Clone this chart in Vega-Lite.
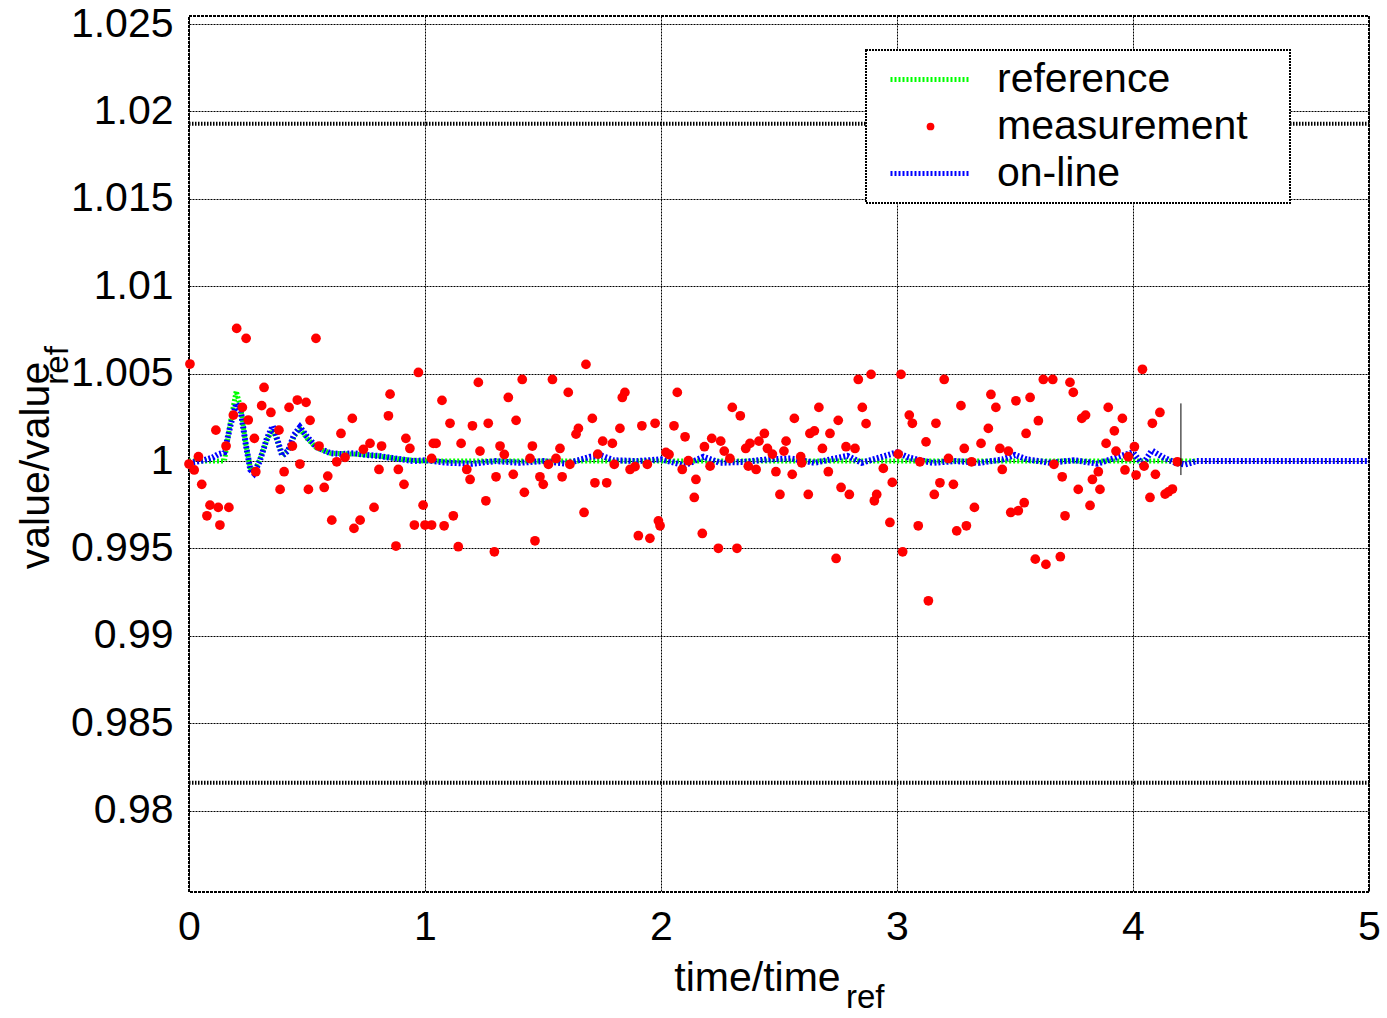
{
  "$schema": "https://vega.github.io/schema/vega-lite/v6.json",
  "width": 1180,
  "height": 876,
  "autosize": {"type": "none"},
  "padding": {"left": 189, "top": 16, "right": 18, "bottom": 126},
  "background": "white",
  "config": {
    "font": "Liberation Sans",
    "view": {"stroke": "black", "strokeWidth": 2, "strokeDash": [3, 1]},
    "axis": {
      "labelFont": "Liberation Sans", "labelFontSize": 41, "labelColor": "black",
      "titleFont": "Liberation Sans", "titleFontSize": 41, "titleFontWeight": "normal", "titleColor": "black",
      "domain": false, "ticks": false, "tickSize": 0,
      "grid": true, "gridColor": "black", "gridOpacity": 1, "gridWidth": 1, "gridDash": [2, 1],
      "labelFlush": false, "labelBound": false, "labelOverlap": false
    }
  },
  "datasets": {
    "limits": [
      {"t": 0, "t2": 5, "v": 1.0193},
      {"t": 0, "t2": 5, "v": 0.9816}
    ],
    "marker": [
      {"t": 4.203, "v": 0.9992, "v2": 1.0033}
    ],
    "subscript": [
      {"label": "ref"}
    ],
    "reference": [
      {"t": 0, "v": 1.0}, {"t": 0.15, "v": 1.0}, {"t": 0.175, "v": 1.0022}, {"t": 0.2, "v": 1.004},
      {"t": 0.22, "v": 1.003}, {"t": 0.24, "v": 1.001}, {"t": 0.26, "v": 0.9996}, {"t": 0.275, "v": 0.9994},
      {"t": 0.3, "v": 1.0001}, {"t": 0.33, "v": 1.0012}, {"t": 0.355, "v": 1.0018}, {"t": 0.375, "v": 1.0011},
      {"t": 0.395, "v": 1.0003}, {"t": 0.42, "v": 1.0006}, {"t": 0.445, "v": 1.0014}, {"t": 0.47, "v": 1.00185},
      {"t": 0.5, "v": 1.0013}, {"t": 0.54, "v": 1.00075}, {"t": 0.6, "v": 1.00045}, {"t": 0.7, "v": 1.0004},
      {"t": 0.8, "v": 1.0003}, {"t": 0.9, "v": 1.0001}, {"t": 1.0, "v": 1.0}, {"t": 4.27, "v": 1.0}
    ],
    "online": [
      {"t": 0, "v": 0.9999}, {"t": 0.05, "v": 1.0}, {"t": 0.1, "v": 1.0002}, {"t": 0.125, "v": 1.0004},
      {"t": 0.15, "v": 1.0005}, {"t": 0.175, "v": 1.002}, {"t": 0.2, "v": 1.0033}, {"t": 0.22, "v": 1.0028},
      {"t": 0.24, "v": 1.001}, {"t": 0.26, "v": 0.9995}, {"t": 0.275, "v": 0.9993}, {"t": 0.3, "v": 1.0},
      {"t": 0.33, "v": 1.0013}, {"t": 0.355, "v": 1.002}, {"t": 0.375, "v": 1.0012}, {"t": 0.395, "v": 1.0003},
      {"t": 0.42, "v": 1.0006}, {"t": 0.445, "v": 1.0015}, {"t": 0.47, "v": 1.00195}, {"t": 0.5, "v": 1.0014},
      {"t": 0.54, "v": 1.0008}, {"t": 0.6, "v": 1.00045}, {"t": 0.65, "v": 1.0004}, {"t": 0.7, "v": 1.00045},
      {"t": 0.75, "v": 1.00035}, {"t": 0.8, "v": 1.0003}, {"t": 0.85, "v": 1.0002}, {"t": 0.9, "v": 1.0001},
      {"t": 0.95, "v": 1.0}, {"t": 1.0, "v": 1.00005}, {"t": 1.1, "v": 0.9999}, {"t": 1.2, "v": 0.99985},
      {"t": 1.3, "v": 1.0}, {"t": 1.4, "v": 0.9999}, {"t": 1.5, "v": 1.0}, {"t": 1.6, "v": 0.99985},
      {"t": 1.7, "v": 1.00025}, {"t": 1.75, "v": 1.0003}, {"t": 1.8, "v": 1.00005}, {"t": 1.9, "v": 1.0},
      {"t": 2.0, "v": 1.0001}, {"t": 2.1, "v": 0.99975}, {"t": 2.18, "v": 1.00025}, {"t": 2.25, "v": 0.9999},
      {"t": 2.35, "v": 0.99995}, {"t": 2.45, "v": 1.0001}, {"t": 2.55, "v": 1.00015}, {"t": 2.65, "v": 0.9999},
      {"t": 2.79, "v": 1.0003}, {"t": 2.85, "v": 0.9999}, {"t": 2.95, "v": 1.0003}, {"t": 3.0, "v": 1.0005},
      {"t": 3.05, "v": 1.0002}, {"t": 3.15, "v": 0.9999}, {"t": 3.25, "v": 1.0}, {"t": 3.35, "v": 0.9999},
      {"t": 3.45, "v": 1.0001}, {"t": 3.5, "v": 1.00035}, {"t": 3.55, "v": 1.0001}, {"t": 3.65, "v": 0.9999},
      {"t": 3.75, "v": 1.00005}, {"t": 3.85, "v": 0.99985}, {"t": 3.95, "v": 1.0003}, {"t": 4.0, "v": 1.0005},
      {"t": 4.04, "v": 0.9998}, {"t": 4.08, "v": 1.0006}, {"t": 4.13, "v": 1.0002}, {"t": 4.18, "v": 0.9999},
      {"t": 4.22, "v": 0.9998}, {"t": 4.27, "v": 1.0}, {"t": 5.0, "v": 1.0}
    ],
    "measurement": [
      {"t":0.004,"v":1.00555},{"t":0.202,"v":1.00759},{"t":0.242,"v":1.00702},{"t":0.538,"v":1.00702},{"t":0.972,"v":1.00507},{"t":0.318,"v":1.00421},{"t":0.852,"v":1.00383},{"t":0.308,"v":1.00317},{"t":0.347,"v":1.00278},{"t":0.424,"v":1.00307},{"t":0.459,"v":1.00349},{"t":0.496,"v":1.00336},{"t":0.226,"v":1.00307},{"t":0.188,"v":1.00263},{"t":0.251,"v":1.00235},{"t":0.513,"v":1.00233},{"t":0.692,"v":1.00244},{"t":0.845,"v":1.00259},{"t":0.114,"v":1.00177},{"t":0.381,"v":1.00177},{"t":0.644,"v":1.00158},{"t":0.919,"v":1.0013},{"t":0.277,"v":1.0013},{"t":0.157,"v":1.00086},{"t":0.438,"v":1.00086},{"t":0.551,"v":1.00086},{"t":0.767,"v":1.00101},{"t":0.739,"v":1.00067},{"t":0.816,"v":1.00086},{"t":0.936,"v":1.00072},{"t":1.035,"v":1.00101},{"t":0.04,"v":1.00025},{"t":0.626,"v":0.99996},{"t":0.661,"v":1.00021},{"t":1.028,"v":1.00015},{"t":0.0,"v":0.99983},{"t":0.022,"v":0.99949},{"t":0.47,"v":0.99983},{"t":0.283,"v":0.99939},{"t":0.403,"v":0.99939},{"t":0.805,"v":0.99952},{"t":0.887,"v":0.99952},{"t":0.588,"v":0.99914},{"t":0.054,"v":0.99867},{"t":0.911,"v":0.99867},{"t":0.386,"v":0.99838},{"t":0.506,"v":0.99838},{"t":0.573,"v":0.99849},{"t":0.089,"v":0.99748},{"t":0.124,"v":0.99735},{"t":0.169,"v":0.99735},{"t":0.076,"v":0.99687},{"t":0.131,"v":0.99634},{"t":0.784,"v":0.99735},{"t":0.605,"v":0.99662},{"t":0.725,"v":0.99662},{"t":0.699,"v":0.99615},{"t":0.992,"v":0.99748},{"t":0.955,"v":0.99634},{"t":1.0,"v":0.99634},{"t":1.028,"v":0.99634},{"t":0.877,"v":0.99514},
      {"t":1.682,"v":1.00553},{"t":1.226,"v":1.0045},{"t":1.412,"v":1.00467},{"t":1.54,"v":1.00467},{"t":1.607,"v":1.00393},{"t":1.836,"v":1.00364},{"t":1.847,"v":1.00393},{"t":1.072,"v":1.00347},{"t":1.353,"v":1.00364},{"t":1.106,"v":1.00216},{"t":1.201,"v":1.00202},{"t":1.268,"v":1.00216},{"t":1.386,"v":1.00233},{"t":1.709,"v":1.00244},{"t":1.65,"v":1.00187},{"t":1.64,"v":1.00154},{"t":1.826,"v":1.00187},{"t":1.919,"v":1.00202},{"t":1.975,"v":1.00216},{"t":1.047,"v":1.00101},{"t":1.153,"v":1.00101},{"t":1.318,"v":1.00086},{"t":1.455,"v":1.00086},{"t":1.572,"v":1.00072},{"t":1.753,"v":1.00114},{"t":1.794,"v":1.00101},{"t":1.233,"v":1.00057},{"t":1.336,"v":1.00038},{"t":1.732,"v":1.0004},{"t":2.021,"v":1.0005},{"t":1.445,"v":1.00015},{"t":1.555,"v":1.00015},{"t":1.523,"v":0.99981},{"t":1.614,"v":0.99981},{"t":1.802,"v":0.99981},{"t":1.942,"v":0.99981},{"t":1.177,"v":0.99952},{"t":1.869,"v":0.99952},{"t":1.89,"v":0.99968},{"t":1.191,"v":0.99895},{"t":1.301,"v":0.9991},{"t":1.374,"v":0.99924},{"t":1.487,"v":0.9991},{"t":1.501,"v":0.99867},{"t":1.581,"v":0.9991},{"t":1.72,"v":0.99876},{"t":1.77,"v":0.99876},{"t":1.421,"v":0.99821},{"t":1.258,"v":0.99773},{"t":1.674,"v":0.99706},{"t":1.12,"v":0.99687},{"t":1.081,"v":0.9963},{"t":1.989,"v":0.99658},{"t":1.996,"v":0.9963},{"t":1.904,"v":0.99573},{"t":1.953,"v":0.99558},{"t":1.466,"v":0.99544},{"t":1.141,"v":0.9951},{"t":1.294,"v":0.99481},
      {"t":2.836,"v":1.00467},{"t":2.89,"v":1.00496},{"t":3.017,"v":1.00496},{"t":2.069,"v":1.00393},{"t":2.302,"v":1.00307},{"t":2.336,"v":1.00259},{"t":2.853,"v":1.00307},{"t":2.669,"v":1.00307},{"t":2.565,"v":1.00244},{"t":2.751,"v":1.00233},{"t":2.869,"v":1.00214},{"t":2.055,"v":1.00202},{"t":2.102,"v":1.00139},{"t":2.438,"v":1.00158},{"t":2.631,"v":1.00158},{"t":2.65,"v":1.00173},{"t":2.716,"v":1.00158},{"t":2.215,"v":1.0013},{"t":2.253,"v":1.00114},{"t":2.415,"v":1.00114},{"t":2.53,"v":1.00114},{"t":2.377,"v":1.00101},{"t":2.359,"v":1.00072},{"t":2.184,"v":1.00082},{"t":2.268,"v":1.00057},{"t":2.451,"v":1.00072},{"t":2.521,"v":1.00057},{"t":2.472,"v":1.0004},{"t":2.684,"v":1.00072},{"t":2.784,"v":1.00082},{"t":2.822,"v":1.00072},{"t":2.034,"v":1.00038},{"t":2.116,"v":1.00002},{"t":2.292,"v":1.00015},{"t":2.592,"v":1.00025},{"t":2.596,"v":0.9999},{"t":2.37,"v":0.99971},{"t":2.403,"v":0.99952},{"t":2.208,"v":0.99971},{"t":2.09,"v":0.99952},{"t":2.487,"v":0.99939},{"t":2.556,"v":0.99924},{"t":2.709,"v":0.99939},{"t":2.942,"v":0.99958},{"t":3.005,"v":1.0004},{"t":2.148,"v":0.99895},{"t":2.98,"v":0.99878},{"t":2.763,"v":0.99849},{"t":2.798,"v":0.99809},{"t":2.504,"v":0.99809},{"t":2.624,"v":0.99809},{"t":2.914,"v":0.99809},{"t":2.904,"v":0.99773},{"t":2.141,"v":0.99792},{"t":2.97,"v":0.99649},{"t":2.175,"v":0.99586},{"t":2.243,"v":0.99501},{"t":2.322,"v":0.99501},{"t":2.742,"v":0.99443},{"t":3.024,"v":0.99481},
      {"t":3.2,"v":1.00467},{"t":3.62,"v":1.00467},{"t":3.66,"v":1.00467},{"t":3.733,"v":1.0045},{"t":3.747,"v":1.00393},{"t":3.398,"v":1.00381},{"t":3.504,"v":1.00345},{"t":3.564,"v":1.00364},{"t":3.271,"v":1.00317},{"t":3.419,"v":1.00307},{"t":3.895,"v":1.00307},{"t":3.052,"v":1.00263},{"t":3.065,"v":1.00216},{"t":3.165,"v":1.00216},{"t":3.799,"v":1.00263},{"t":3.783,"v":1.00244},{"t":3.955,"v":1.00244},{"t":3.599,"v":1.00231},{"t":3.387,"v":1.00187},{"t":3.547,"v":1.00158},{"t":3.921,"v":1.00173},{"t":3.123,"v":1.0011},{"t":3.356,"v":1.00101},{"t":3.886,"v":1.00101},{"t":3.285,"v":1.00072},{"t":3.436,"v":1.00072},{"t":3.472,"v":1.00057},{"t":3.928,"v":1.00057},{"t":4.006,"v":1.00082},{"t":3.98,"v":1.00025},{"t":3.218,"v":1.00015},{"t":3.097,"v":0.99996},{"t":3.316,"v":0.99996},{"t":3.665,"v":0.99981},{"t":3.446,"v":0.99952},{"t":3.853,"v":0.99939},{"t":3.966,"v":0.99949},{"t":4.013,"v":0.9992},{"t":3.7,"v":0.9991},{"t":3.828,"v":0.99895},{"t":3.182,"v":0.99876},{"t":3.239,"v":0.99867},{"t":3.768,"v":0.99838},{"t":3.86,"v":0.99838},{"t":3.158,"v":0.99809},{"t":3.539,"v":0.99762},{"t":3.818,"v":0.99746},{"t":3.328,"v":0.99735},{"t":3.482,"v":0.99706},{"t":3.514,"v":0.99716},{"t":3.712,"v":0.99687},{"t":3.09,"v":0.9963},{"t":3.294,"v":0.9963},{"t":3.253,"v":0.99601},{"t":3.586,"v":0.99439},{"t":3.631,"v":0.99409},{"t":3.692,"v":0.99453},{"t":3.133,"v":0.99201},
      {"t":4.04,"v":1.00525},{"t":4.114,"v":1.00278},{"t":4.082,"v":1.00216},{"t":4.188,"v":0.99996},{"t":4.047,"v":0.99971},{"t":4.095,"v":0.99924},{"t":4.072,"v":0.99792},{"t":4.136,"v":0.99811},{"t":4.167,"v":0.9984},{"t":4.15,"v":0.99824}
    ]
  },
  "layer": [
    {
      "encoding": {
        "x": {
          "field": "t", "type": "quantitative",
          "scale": {"domain": [0, 5], "nice": false, "zero": false},
          "axis": {
            "title": "time/time", "values": [0, 1, 2, 3, 4, 5], "format": "d", "labelPadding": 15,
            "titleX": 568, "titleY": 98, "titleAlign": "center", "titleBaseline": "alphabetic", "titleAngle": 0
          }
        },
        "y": {
          "field": "v", "type": "quantitative",
          "scale": {"domain": [0.97535, 1.02546], "nice": false, "zero": false},
          "axis": {
            "title": "value/value",
            "values": [0.98, 0.985, 0.99, 0.995, 1, 1.005, 1.01, 1.015, 1.02, 1.025],
            "format": "~g", "labelPadding": 16,
            "titleX": -141, "titleY": 449, "titleAngle": 270, "titleAlign": "center", "titleBaseline": "alphabetic"
          }
        }
      },
      "layer": [
        {
          "data": {"name": "limits"},
          "mark": {"type": "rule", "color": "black", "strokeWidth": 4, "strokeDash": [1.5, 1.5]},
          "encoding": {"x2": {"field": "t2"}}
        },
        {
          "data": {"name": "reference"},
          "mark": {"type": "line", "strokeWidth": 5, "strokeDash": [2, 2]},
          "encoding": {
            "color": {
              "datum": "reference", "type": "nominal",
              "scale": {"domain": ["reference", "measurement", "on-line"], "range": ["#00ff00", "#ff0000", "#0000ff"]},
              "legend": {
                "title": " ", "titleOrient": "right", "titlePadding": 33, "titleFontSize": 41, "titleFont": "Liberation Sans",
                "orient": "none", "legendX": 677, "legendY": 34,
                "labelFont": "Liberation Sans", "labelFontSize": 41, "labelColor": "black", "labelLimit": 600,
                "strokeColor": "black", "fillColor": "white", "padding": 9,
                "symbolOffset": 35, "labelOffset": 46, "rowPadding": 5,
                "symbolType": "stroke", "symbolSize": 6400, "symbolStrokeWidth": 5, "symbolDash": [2, 2],
                "encode": {
                  "legend": {"update": {"strokeDash": {"value": [2, 1]}, "strokeWidth": {"value": 2}}},
                  "symbols": {"update": {
                    "shape": {"signal": "datum.value === 'measurement' ? 'circle' : 'stroke'"},
                    "size": {"signal": "datum.value === 'measurement' ? 60 : 6400"},
                    "fill": {"signal": "datum.value === 'measurement' ? '#ff0000' : 'transparent'"},
                    "stroke": {"signal": "datum.value === 'reference' ? '#00ff00' : (datum.value === 'on-line' ? '#0000ff' : 'transparent')"},
                    "strokeWidth": {"signal": "datum.value === 'measurement' ? 0 : 5"},
                    "strokeDash": {"signal": "datum.value === 'measurement' ? [1, 0] : [2, 2]"},
                    "opacity": {"value": 1}
                  }}
                }
              }
            }
          }
        },
        {
          "data": {"name": "online"},
          "mark": {"type": "line", "strokeWidth": 6, "strokeDash": [2, 2]},
          "encoding": {"color": {"datum": "on-line", "type": "nominal"}}
        },
        {
          "data": {"name": "measurement"},
          "mark": {"type": "point", "filled": true, "size": 95, "opacity": 1, "strokeWidth": 0},
          "encoding": {"color": {"datum": "measurement", "type": "nominal"}}
        },
        {
          "data": {"name": "marker"},
          "mark": {"type": "rule", "color": "black", "strokeWidth": 1},
          "encoding": {"y2": {"field": "v2"}}
        }
      ]
    },
    {
      "data": {"name": "subscript"},
      "mark": {"type": "text", "font": "Liberation Sans", "fontSize": 33, "align": "center", "baseline": "alphabetic", "color": "black"},
      "encoding": {
        "text": {"field": "label"},
        "x": {"datum": 2.865, "type": "quantitative", "scale": {"domain": [0, 5], "nice": false, "zero": false}},
        "y": {"datum": 0.96871, "type": "quantitative", "scale": {"domain": [0.97535, 1.02546], "nice": false, "zero": false}}
      }
    },
    {
      "data": {"name": "subscript"},
      "mark": {"type": "text", "font": "Liberation Sans", "fontSize": 33, "align": "center", "baseline": "alphabetic", "angle": 270, "color": "black"},
      "encoding": {
        "text": {"field": "label"},
        "x": {"datum": -0.5127, "type": "quantitative", "scale": {"domain": [0, 5], "nice": false, "zero": false}},
        "y": {"datum": 1.00547, "type": "quantitative", "scale": {"domain": [0.97535, 1.02546], "nice": false, "zero": false}}
      }
    }
  ]
}
